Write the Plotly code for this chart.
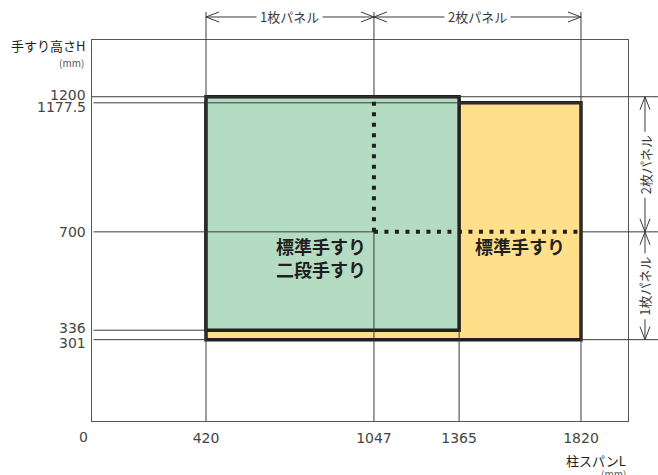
import plotly.graph_objects as go

# 柱スパン L と 手すり高さ H (mm)
span_ticks = [420, 1047, 1365, 1820]
height_ticks = [1200, 1177.5, 700, 336, 301]
height_labels = ["1200", "1177.5", "700", "336", "301"]
label_nudge = [1.5, -4.3, 0, 2, -3]  # 近い目盛りの文字を少し離す (px)

std_span = [420, 1820]      # 標準手すり
std_height = [301, 1177.5]
double_span = [420, 1365]   # 標準手すり + 二段手すり
double_height = [336, 1200]
split_x = 1047              # 1枚パネル / 2枚パネル の境目
split_y = 700

X_RANGE = [-5.6, 1995.5]
Y_RANGE = [0, 1410]

GREEN = "#b3dcc3"
YELLOW = "#ffdf8a"
INK = "#231f20"
THIN = "#3a3a3a"
JP = "Noto Sans CJK JP"
NUM = "DejaVu Sans"

TOP = 1.0735     # 上の寸法線まで伸びる縦線 (paper)
DIM_Y = 1.0604   # 上の寸法線
RIGHT = 1.056    # 右へ伸びる横線 (paper)
DIM_X = 1.0317   # 右の寸法線

shapes = []


def seg(x0, x1, y0, y1, xref="x", yref="y"):
    shapes.append(dict(type="line", xref=xref, yref=yref, x0=x0, x1=x1, y0=y0, y1=y1,
                       line=dict(color=THIN, width=1), layer="above"))


def chevron(x, y, path, xref="x", yref="paper"):
    shapes.append(dict(type="path", xref=xref, yref=yref, xsizemode="pixel", ysizemode="pixel",
                       xanchor=x, yanchor=y, path=path,
                       line=dict(color=THIN, width=1), layer="above"))


def to_paper_x(v):
    return (v - X_RANGE[0]) / (X_RANGE[1] - X_RANGE[0])


def to_paper_y(v):
    return (v - Y_RANGE[0]) / (Y_RANGE[1] - Y_RANGE[0])


# 面
shapes.append(dict(type="rect", x0=std_span[0], x1=std_span[1], y0=std_height[0], y1=std_height[1],
                   fillcolor=YELLOW, line=dict(color=INK, width=3.5), layer="above"))
shapes.append(dict(type="rect", x0=double_span[0], x1=double_span[1], y0=double_height[0], y1=double_height[1],
                   fillcolor=GREEN, line=dict(color=INK, width=3.5), layer="above"))

# 細い補助線 (縦)
seg(span_ticks[0], span_ticks[0], 0, TOP, yref="paper")
seg(split_x, split_x, 0, split_y)
seg(split_x, split_x, to_paper_y(double_height[1]), TOP, yref="paper")
seg(span_ticks[2], span_ticks[2], 0, double_height[0])
seg(span_ticks[3], span_ticks[3], 0, TOP, yref="paper")

# 細い補助線 (横)
seg(0, RIGHT, height_ticks[0], height_ticks[0], xref="paper")
seg(0, std_span[1], height_ticks[1], height_ticks[1])
seg(0, split_x, split_y, split_y)
seg(to_paper_x(std_span[1]), RIGHT, split_y, split_y, xref="paper")
seg(to_paper_x(std_span[1]), RIGHT, std_height[0], std_height[0], xref="paper")
seg(0, double_span[0], double_height[0], double_height[0])
seg(0, std_span[0], std_height[0], std_height[0])

# パネル境目の点線
dots = dict(color=INK, width=4, dash="4px,6.5px")
shapes.append(dict(type="line", x0=split_x, x1=split_x, y0=split_y, y1=double_height[1], line=dots, layer="above"))
shapes.append(dict(type="line", x0=split_x, x1=std_span[1], y0=split_y, y1=split_y, line=dots, layer="above"))

# 上の寸法線
seg(span_ticks[0], span_ticks[3], DIM_Y, DIM_Y, yref="paper")
chevron(span_ticks[0], DIM_Y, "M 13 5 L 0 0 L 13 -5")
chevron(split_x, DIM_Y, "M -13 5 L 0 0 L -13 -5 M 13 5 L 0 0 L 13 -5")
chevron(span_ticks[3], DIM_Y, "M -13 5 L 0 0 L -13 -5")

# 右の寸法線
seg(DIM_X, DIM_X, std_height[0], double_height[1], xref="paper")
chevron(DIM_X, double_height[1], "M -5 -13 L 0 0 L 5 -13", xref="paper", yref="y")
chevron(DIM_X, split_y, "M -5 -13 L 0 0 L 5 -13 M -5 13 L 0 0 L 5 13", xref="paper", yref="y")
chevron(DIM_X, std_height[0], "M -5 13 L 0 0 L 5 13", xref="paper", yref="y")

annotations = []
for val, txt, dy in zip(height_ticks, height_labels, label_nudge):
    annotations.append(dict(x=0, xref="paper", y=val, yref="y", text=txt, showarrow=False,
                            xanchor="right", yanchor="middle", xshift=-4, yshift=dy,
                            font=dict(family=NUM, size=14, color="#444")))
annotations.append(dict(x=0, xref="x", y=0, yref="paper", text="0", showarrow=False,
                        xanchor="center", xshift=-10, yanchor="top", yshift=-6,
                        font=dict(family=NUM, size=14, color="#444")))

dim_font = dict(family=JP, size=13, color=THIN)
annotations += [
    dict(x=(span_ticks[0] + split_x) / 2, xref="x", y=DIM_Y, yref="paper", text="1枚パネル",
         xanchor="center", yanchor="middle", showarrow=False, bgcolor="white", borderpad=3, font=dim_font),
    dict(x=(split_x + span_ticks[3]) / 2, xref="x", y=DIM_Y, yref="paper", text="2枚パネル",
         xanchor="center", yanchor="middle", showarrow=False, bgcolor="white", borderpad=3, font=dim_font),
    dict(x=DIM_X, xref="paper", y=(split_y + double_height[1]) / 2, yref="y", text="2枚パネル",
         xanchor="center", yanchor="middle", textangle=-90, showarrow=False, bgcolor="white", borderpad=3,
         font=dim_font),
    dict(x=DIM_X, xref="paper", y=(std_height[0] + split_y) / 2, yref="y", text="1枚パネル",
         xanchor="center", yanchor="middle", textangle=-90, showarrow=False, bgcolor="white", borderpad=3,
         font=dim_font),
]

label_font = dict(family=JP, size=18, color=INK, weight=600)
annotations += [
    dict(x=split_x, y=split_y, text="標準手すり", showarrow=False,
         xanchor="right", yanchor="middle", xshift=-6, yshift=-14, font=label_font),
    dict(x=split_x, y=split_y, text="二段手すり", showarrow=False,
         xanchor="right", yanchor="middle", xshift=-6, yshift=-37, font=label_font),
    dict(x=(double_span[1] + std_span[1]) / 2, y=split_y, text="標準手すり", showarrow=False,
         xanchor="center", yanchor="middle", yshift=-14, font=label_font),
]

# 軸タイトル
annotations += [
    dict(x=-0.01, xref="paper", y=1.0, yref="paper", text="手すり高さH", showarrow=False,
         xanchor="right", yanchor="middle", yshift=-5, font=dict(family=JP, size=13, color=INK)),
    dict(x=-0.012, xref="paper", y=1.0, yref="paper", text="(mm)", showarrow=False,
         xanchor="right", yanchor="middle", yshift=-22, font=dict(family=JP, size=10, color="#555")),
    dict(x=1.0, xref="paper", y=0, yref="paper", text="柱スパンL", showarrow=False,
         xanchor="right", yanchor="middle", yshift=-39, font=dict(family=JP, size=13, color=INK)),
    dict(x=1.0, xref="paper", y=0, yref="paper", text="(mm)", showarrow=False,
         xanchor="right", yanchor="middle", yshift=-52, font=dict(family=JP, size=10, color="#555")),
]

fig = go.Figure()
fig.update_layout(
    width=658,
    height=475,
    margin=dict(l=92, r=30, t=40, b=54),
    paper_bgcolor="white",
    plot_bgcolor="white",
    showlegend=False,
    shapes=shapes,
    annotations=annotations,
)
fig.update_xaxes(range=X_RANGE, tickvals=span_ticks, ticktext=[str(v) for v in span_ticks],
                 showgrid=False, zeroline=False, showline=True, mirror=True, linecolor="#555", linewidth=1,
                 ticks="outside", ticklen=4, tickcolor="rgba(0,0,0,0)",
                 tickfont=dict(family=NUM, size=14, color="#444"))
fig.update_yaxes(range=Y_RANGE, showticklabels=False, showgrid=False, zeroline=False,
                 showline=True, mirror=True, linecolor="#555", linewidth=1)

# ページ既定の余白 (8px) を消して図を左上に合わせる
fig.write_html("out.html", config={"displayModeBar": False},
               post_script="document.body.style.margin='0';")
